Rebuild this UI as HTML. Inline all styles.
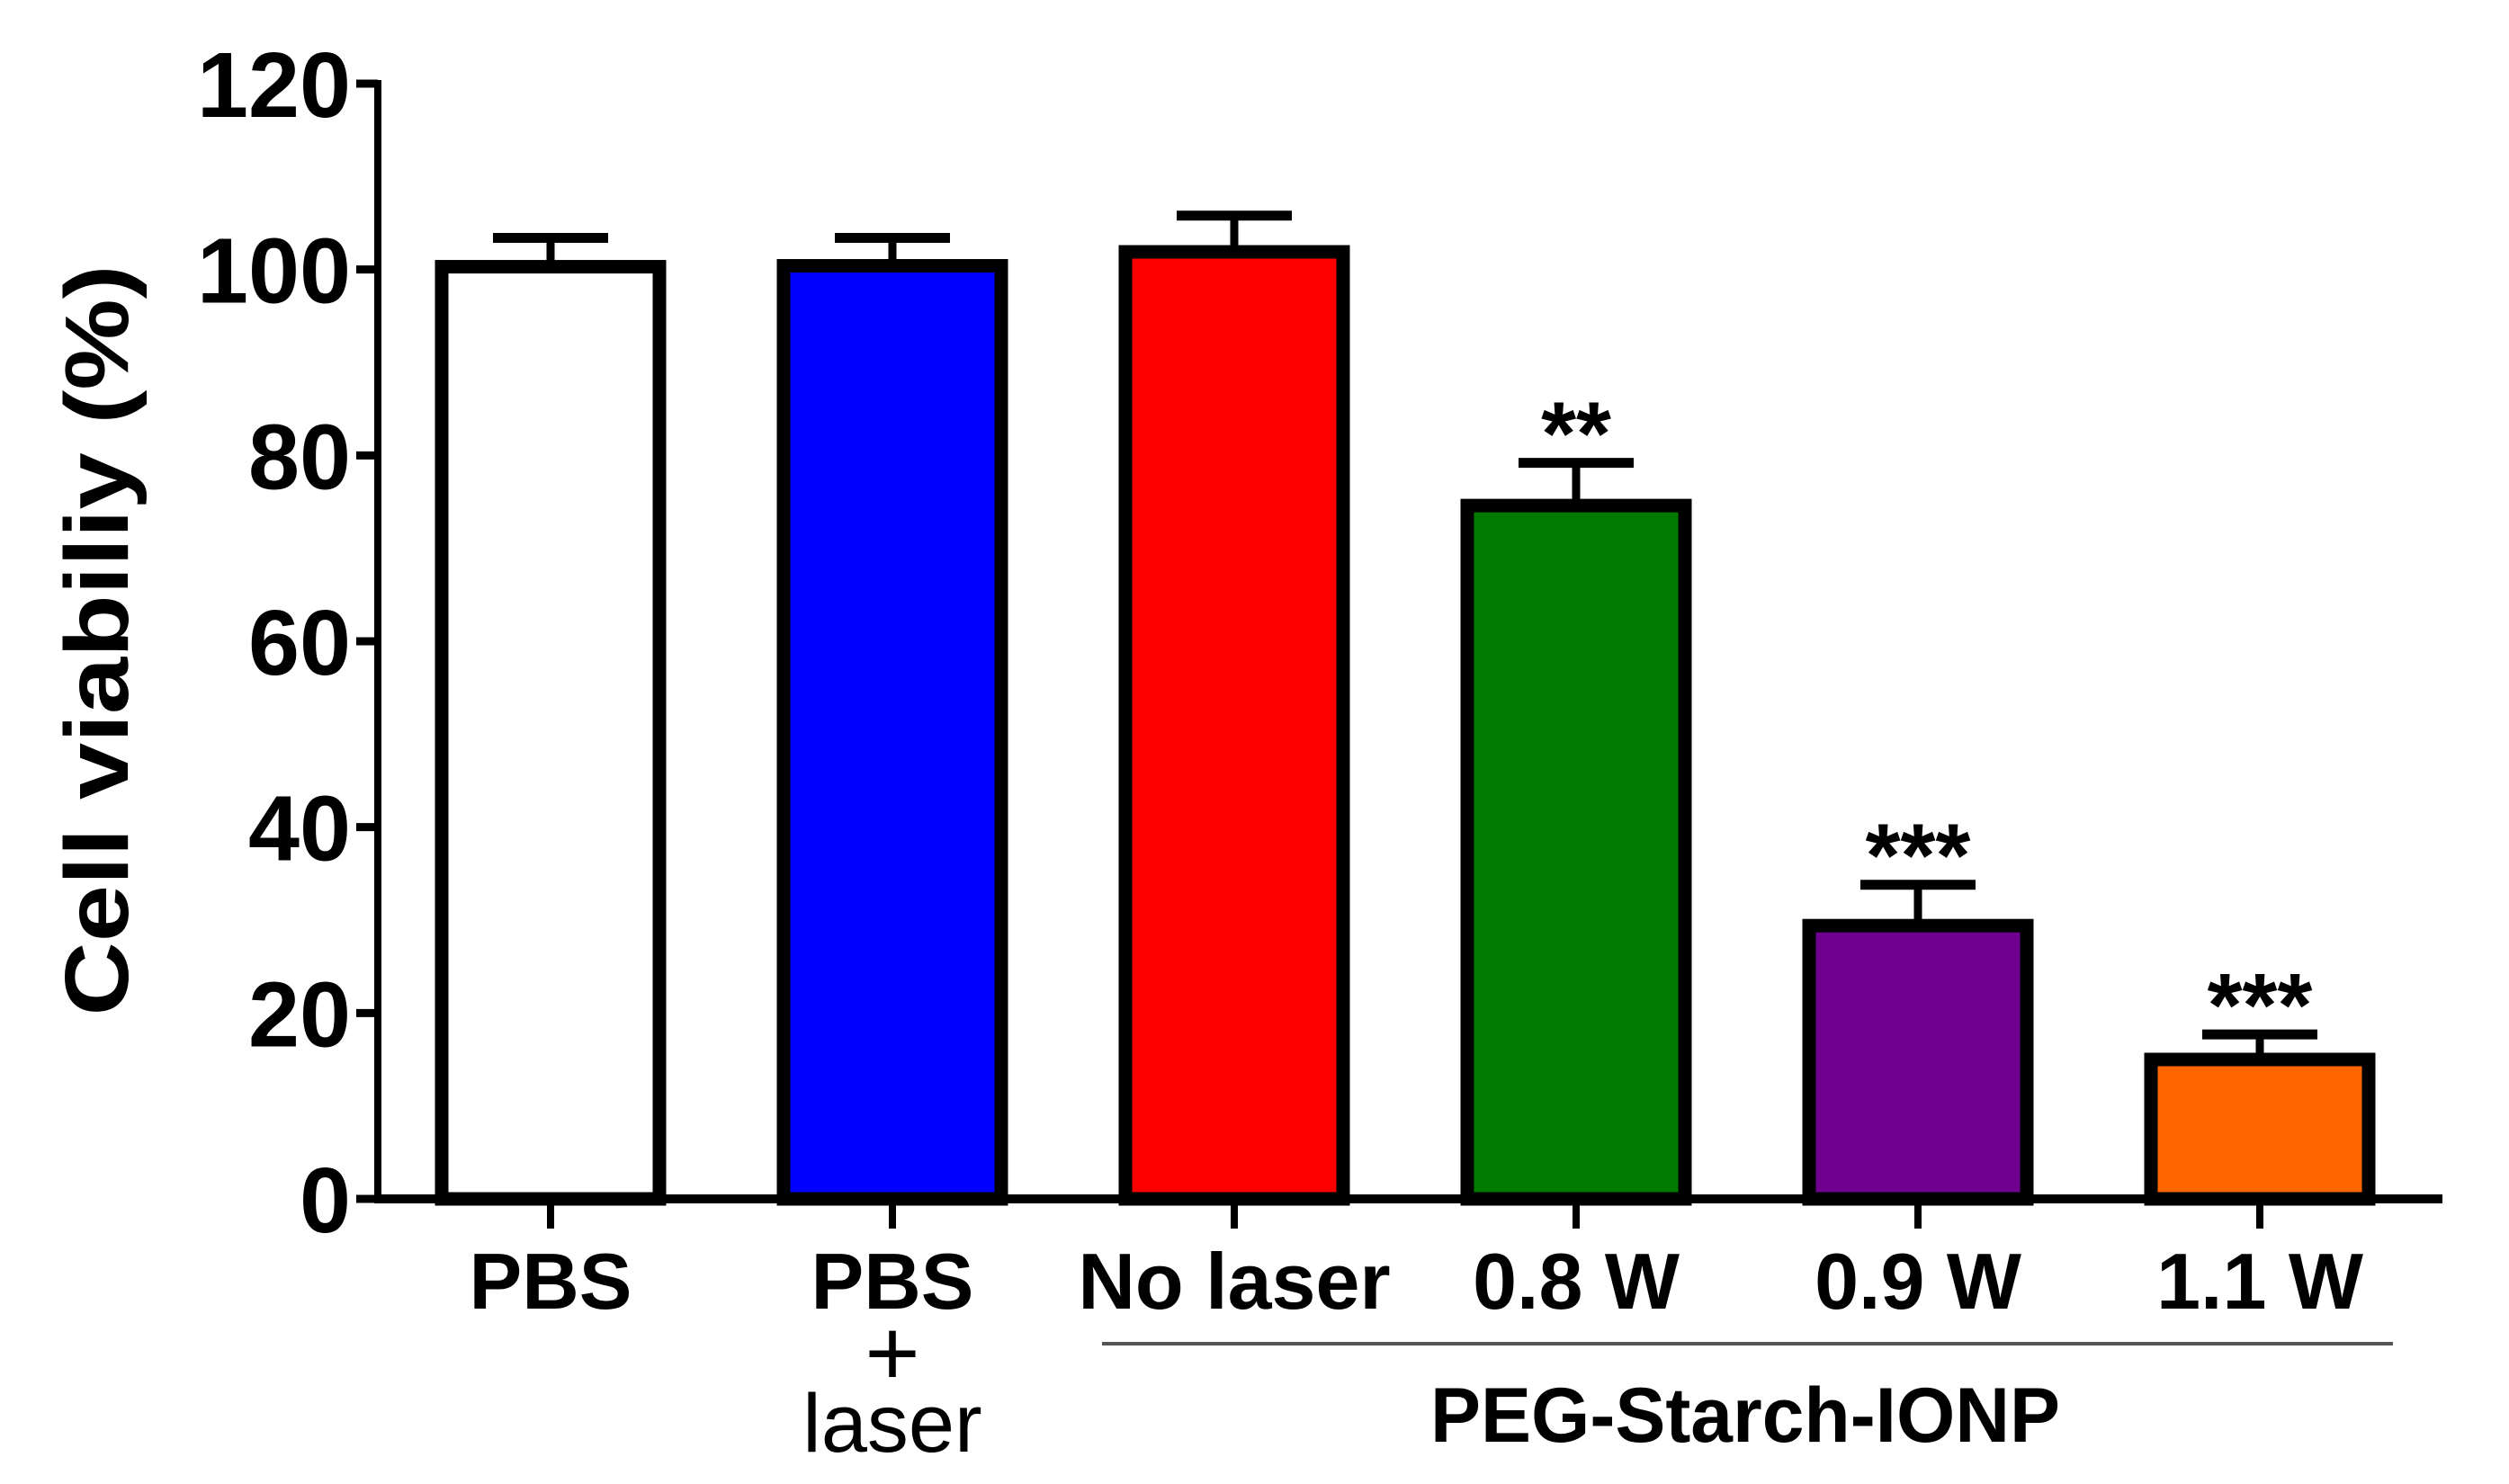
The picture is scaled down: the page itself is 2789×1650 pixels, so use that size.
<!DOCTYPE html>
<html><head><meta charset="utf-8">
<style>
html,body{margin:0;padding:0;background:#fff;}
svg{display:block;}
text{font-family:"Liberation Sans",Arial,sans-serif;fill:#000;}
</style></head>
<body>
<svg id="chart" width="2789" height="1650" viewBox="0 0 2789 1650" xmlns="http://www.w3.org/2000/svg">
<g id="axes"></g>
<g id="bars"></g>
<g id="labels"></g>
<text x="0" y="0" transform="translate(142,712) rotate(-90)" text-anchor="middle" font-weight="bold" font-size="100" textLength="835" lengthAdjust="spacingAndGlyphs">Cell viabiliy (%)</text>
<line x1="1225" y1="1494" x2="2660" y2="1494" stroke="#555" stroke-width="4"/>
<text x="1940" y="1603" text-anchor="middle" font-weight="bold" font-size="86" textLength="700" lengthAdjust="spacingAndGlyphs">PEG-Starch-IONP</text>
</svg>
<script>
const categories = ["PBS", "PBS+laser", "No laser", "0.8 W", "0.9 W", "1.1 W"];
const values = [100.3, 100.4, 101.9, 74.6, 29.4, 15.0];
const errors = [3.1, 3.0, 3.9, 4.6, 4.4, 2.7];
const stars = ["", "", "", "**", "***", "***"];
const colors = ["#ffffff", "#0000ff", "#ff0000", "#007b00", "#6f0090", "#ff6600"];
const yTicks = [0, 20, 40, 60, 80, 100, 120];

const NS = "http://www.w3.org/2000/svg";
const X0 = 420, X1 = 2715, Y0 = 1333, YTOP = 93, YMAX = 120;
const firstCenter = 612, step = 380, barW = 242;
function y(v){ return Y0 - (v / YMAX) * (Y0 - YTOP); }
function x(i){ return firstCenter + i * step; }
function mk(tag, attrs, parent){
  const e = document.createElementNS(NS, tag);
  for (const k in attrs) e.setAttribute(k, attrs[k]);
  parent.appendChild(e);
  return e;
}
const axes = document.getElementById("axes");
const bars = document.getElementById("bars");
const labels = document.getElementById("labels");

let yl = mk("line", {x1: X0, y1: YTOP - 4, x2: X0, y2: Y0 + 5, stroke: "#000", "stroke-width": 8}, axes);


yTicks.forEach(t => {
  const tk = mk("line", {x1: X0 - 24, y1: y(t), x2: X0, y2: y(t), stroke: "#000", "stroke-width": 9}, axes);
  
  
  const s = String(t);
  const lb = mk("text", {x: X0 - 30, y: y(t) + 37, "text-anchor": "end", "font-weight": "bold", "font-size": 103, textLength: s.length * 57, lengthAdjust: "spacingAndGlyphs"}, axes);
  lb.textContent = s;
  
  
});

categories.forEach((c, i) => {
  const cx = x(i), top = y(values[i]);
  const eb = mk("line", {x1: cx, y1: y(values[i] + errors[i]), x2: cx, y2: top, stroke: "#000", "stroke-width": 9}, bars);
  
  
  const cap = mk("line", {x1: cx - 64, y1: y(values[i] + errors[i]), x2: cx + 64, y2: y(values[i] + errors[i]), stroke: "#000", "stroke-width": 11}, bars);
  
  
  const r = mk("rect", {x: cx - barW / 2, y: top, width: barW, height: Y0 - top, fill: colors[i], stroke: "#000", "stroke-width": 15}, bars);
  
  
  if (stars[i]) {
    const s = mk("text", {x: cx, y: y(values[i] + errors[i]) + 2, "text-anchor": "middle", "font-weight": "bold", "font-size": 100}, bars);
    s.textContent = stars[i];
    
    
  }
  const xt = mk("line", {x1: cx, y1: Y0, x2: cx, y2: Y0 + 33, stroke: "#000", "stroke-width": 8}, axes);
  
  
});

let xl = mk("line", {x1: X0 - 4, y1: Y0, x2: X1, y2: Y0, stroke: "#000", "stroke-width": 10}, axes);



categories.forEach((c, i) => {
  const txt = c === "PBS+laser" ? "PBS" : c;
  const t = mk("text", {x: x(i), y: 1455, "text-anchor": "middle", "font-weight": "bold", "font-size": 88}, labels);
  t.textContent = txt;
  
  
  if (c === "PBS+laser") {
    const p = mk("text", {x: x(i), y: 1540, "text-anchor": "middle", "font-size": 105}, labels);
    p.textContent = "+";
    
    
    const l = mk("text", {x: x(i), y: 1614, "text-anchor": "middle", "font-size": 92}, labels);
    l.textContent = "laser";
    
    
  }
});
</script>
</body></html>
